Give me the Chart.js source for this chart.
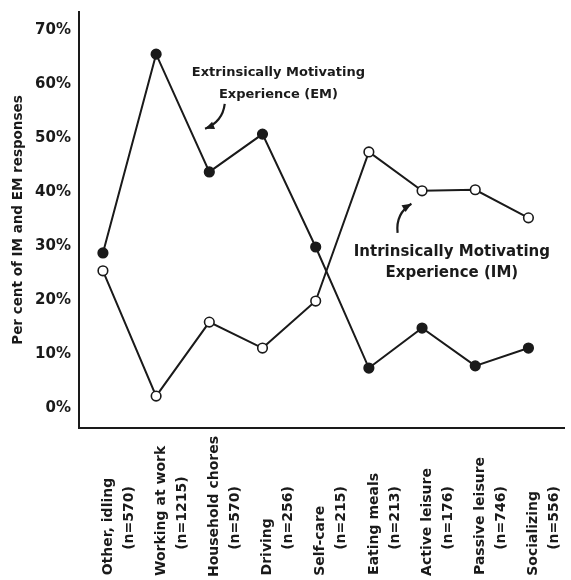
<!DOCTYPE html>
<html>
<head>
<meta charset="utf-8">
<script src="https://cdn.jsdelivr.net/npm/chart.js@4/dist/chart.umd.min.js"></script>
<style>
  html, body { margin: 0; padding: 0; background: #fff; }
  #wrap { width: 571px; height: 580px; }
</style>
</head>
<body>
<div id="wrap"><canvas id="chart" width="571" height="580"></canvas></div>
<script>
const activities = ['Other, idling', 'Working at work', 'Household chores', 'Driving', 'Self-care',
    'Eating meals', 'Active leisure', 'Passive leisure', 'Socializing'];
const sampleSizes = ['(n=570)', '(n=1215)', '(n=570)', '(n=256)', '(n=215)',
    '(n=213)', '(n=176)', '(n=746)', '(n=556)'];
const emValues = [28.7, 65.5, 43.7, 50.7, 29.8, 7.4, 14.8, 7.8, 11.1];
const imValues = [25.4, 2.2, 15.9, 11.1, 19.8, 47.4, 40.2, 40.4, 35.2];
const yTicks = [0, 10, 20, 30, 40, 50, 60, 70];

const ink = '#1a1a1a';
const fontFamily = '"DejaVu Sans", sans-serif';
const tickFont = 'bold 14px "DejaVu Sans"';

// text labels + curved arrows, placed in data coordinates
const notes = [
    { lines: ['Extrinsically Motivating', 'Experience (EM)'], x: 3.3, y: 62.0, size: 13, gap: 22,
      arrow: [[2.29, 56.3], [2.25, 53.0], [1.92, 51.7]] },
    { lines: ['Intrinsically Motivating', 'Experience (IM)'], x: 6.56, y: 28.9, size: 15, gap: 21,
      arrow: [[5.54, 32.4], [5.50, 36.0], [5.80, 37.8]] }
];

// the printed labels start at the bottom edge, so pad them out to a fixed width
const measure = document.createElement('canvas').getContext('2d');
measure.font = tickFont;
function padTo(text, width) {
    let s = text;
    while (measure.measureText(s + ' ').width <= width) s += ' ';
    while (measure.measureText(s + '\u200A').width <= width) s += '\u200A';
    return s;
}

const notesPlugin = {
    id: 'notes',
    afterDatasetsDraw(chart) {
        const ctx = chart.ctx;
        const xs = chart.scales.x, ys = chart.scales.y;
        ctx.save();
        ctx.fillStyle = ink;
        ctx.strokeStyle = ink;
        ctx.textAlign = 'center';
        ctx.textBaseline = 'middle';
        notes.forEach(n => {
            const cx = xs.getPixelForValue(n.x);
            const cy = ys.getPixelForValue(n.y);
            ctx.font = 'bold ' + n.size + 'px ' + fontFamily;
            n.lines.forEach((t, i) => ctx.fillText(t, cx, cy + i * n.gap));

            const p = n.arrow.map(a => [xs.getPixelForValue(a[0]), ys.getPixelForValue(a[1])]);
            ctx.lineWidth = 2.2;
            ctx.beginPath();
            ctx.moveTo(p[0][0], p[0][1]);
            ctx.quadraticCurveTo(p[1][0], p[1][1], p[2][0], p[2][1]);
            ctx.stroke();
            // head
            const ang = Math.atan2(p[2][1] - p[1][1], p[2][0] - p[1][0]);
            const len = 10;
            ctx.beginPath();
            ctx.moveTo(p[2][0], p[2][1]);
            ctx.lineTo(p[2][0] - len * Math.cos(ang - 0.4), p[2][1] - len * Math.sin(ang - 0.4));
            ctx.lineTo(p[2][0] - len * Math.cos(ang + 0.4), p[2][1] - len * Math.sin(ang + 0.4));
            ctx.closePath();
            ctx.fill();
        });
        ctx.restore();
    }
};

function generateChart() {
    const ctx = document.getElementById('chart').getContext('2d');

    const chartData = {
        datasets: [
            {
                label: 'Extrinsically Motivating Experience (EM)',
                data: emValues.map((v, i) => ({ x: i, y: v })),
                borderColor: ink,
                backgroundColor: ink,
                pointBackgroundColor: ink,
                pointBorderColor: ink,
                borderWidth: 2,
                pointRadius: 4.8,
                pointBorderWidth: 1.6,
                tension: 0
            },
            {
                label: 'Intrinsically Motivating Experience (IM)',
                data: imValues.map((v, i) => ({ x: i, y: v })),
                borderColor: ink,
                backgroundColor: '#fff',
                pointBackgroundColor: '#fff',
                pointBorderColor: ink,
                borderWidth: 2,
                pointRadius: 4.8,
                pointBorderWidth: 1.6,
                tension: 0
            }
        ]
    };

    const config = {
        type: 'line',
        data: chartData,
        plugins: [notesPlugin],
        options: {
            responsive: false,
            animation: false,
            layout: { padding: { top: 12, right: 5, left: 0, bottom: 0 } },
            scales: {
                x: {
                    type: 'linear',
                    min: -0.45,
                    max: 8.68,
                    afterBuildTicks: s => { s.ticks = activities.map((a, i) => ({ value: i })); },
                    afterFit: s => { s.height = 152; s.paddingLeft = 0; s.paddingRight = 0; },
                    grid: { display: false, drawTicks: false },
                    border: { display: true, color: ink, width: 2 },
                    ticks: {
                        autoSkip: false,
                        minRotation: 90,
                        maxRotation: 90,
                        padding: 8,
                        labelOffset: 5,
                        color: ink,
                        font: { family: fontFamily, size: 14, weight: 'bold', lineHeight: 1.5 },
                        callback: v => [padTo(activities[v], 140), padTo(sampleSizes[v], 114)]
                    }
                },
                y: {
                    min: -3.7,
                    max: 73.3,
                    afterBuildTicks: s => { s.ticks = yTicks.map(v => ({ value: v })); },
                    afterFit: s => { s.width = 79; s.paddingTop = 0; s.paddingBottom = 0; },
                    grid: { display: false, drawTicks: false },
                    border: { display: true, color: ink, width: 2 },
                    title: {
                        display: true,
                        text: 'Per cent of IM and EM responses',
                        color: ink,
                        font: { family: fontFamily, size: 13.5, weight: 'bold' },
                        padding: { top: 10, bottom: 2 }
                    },
                    ticks: {
                        padding: 8,
                        color: ink,
                        font: { family: fontFamily, size: 15, weight: 'bold' },
                        callback: v => v + '%'
                    }
                }
            },
            plugins: {
                legend: { display: false },
                tooltip: { enabled: false }
            }
        }
    };

    new Chart(ctx, config);
}

window.onload = generateChart;
</script>
</body>
</html>
